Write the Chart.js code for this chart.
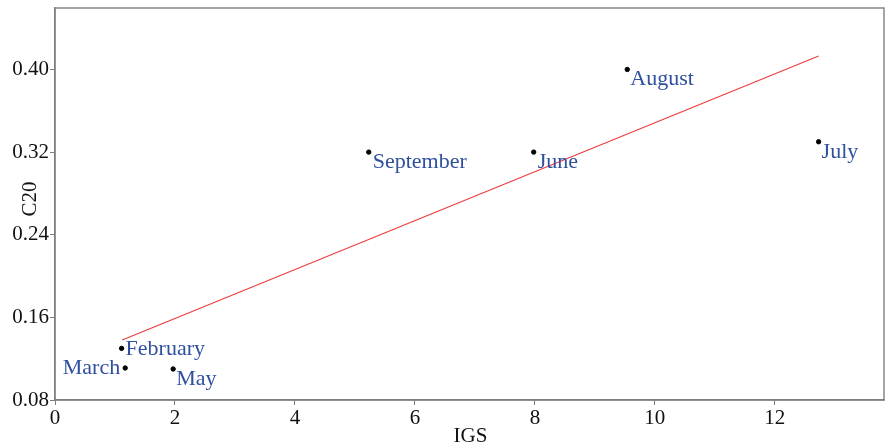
<!DOCTYPE html>
<html>
<head>
<meta charset="utf-8">
<script src="https://cdn.jsdelivr.net/npm/chart.js@4/dist/chart.umd.min.js"></script>
<style>
  html, body { margin: 0; padding: 0; background: #fff; }
  #wrap { width: 885px; height: 448px; }
</style>
</head>
<body>
<div id="wrap"><canvas id="c" width="885" height="448"></canvas></div>
<script>
// Monthly observations: IGS on the x axis, C20 on the y axis
const months = ['February', 'March', 'May', 'September', 'June', 'August', 'July'];
const igs    = [1.11, 1.17, 1.97, 5.23, 7.98, 9.54, 12.73];
const c20    = [0.130, 0.111, 0.110, 0.320, 0.320, 0.400, 0.330];

// Fitted trend line end points
const trendX = [1.12, 12.73];
const trendY = [0.138, 0.413];

// Axis ticks
const xTicks = [0, 2, 4, 6, 8, 10, 12];
const yTicks = [0.08, 0.16, 0.24, 0.32, 0.40];

const FONT = "'Liberation Serif', 'Times New Roman', serif";
const LABEL_BLUE = '#2f4f9f';
const AXIS_GREY = '#7f7f7f';

// Where each month name sits relative to its point
const labelPlacement = {
  February:  { align: 'left',  dx: 4,  dy: 1 },
  March:     { align: 'right', dx: -5, dy: 0 },
  May:       { align: 'left',  dx: 3,  dy: 10 },
  September: { align: 'left',  dx: 4,  dy: 10 },
  June:      { align: 'left',  dx: 4,  dy: 10 },
  August:    { align: 'left',  dx: 3,  dy: 10 },
  July:      { align: 'left',  dx: 3,  dy: 10 }
};

const points = igs.map((x, i) => ({ x: x, y: c20[i] }));
const trend = trendX.map((x, i) => ({ x: x, y: trendY[i] }));

// Frame around the plotting area
const framePlugin = {
  id: 'frame',
  afterDraw(chart) {
    const a = chart.chartArea, ctx = chart.ctx;
    ctx.save();
    ctx.strokeStyle = AXIS_GREY;
    ctx.lineWidth = 1.4;
    ctx.strokeRect(a.left, a.top, a.right - a.left, a.bottom - a.top);
    ctx.restore();
  }
};

// Month names next to the points
const monthLabels = {
  id: 'monthLabels',
  afterDatasetsDraw(chart) {
    const meta = chart.getDatasetMeta(1);
    const ctx = chart.ctx;
    ctx.save();
    ctx.font = '22px ' + FONT;
    ctx.fillStyle = LABEL_BLUE;
    ctx.textBaseline = 'middle';
    meta.data.forEach((el, i) => {
      const p = labelPlacement[months[i]];
      ctx.textAlign = p.align;
      ctx.fillText(months[i], el.x + p.dx, el.y + p.dy);
    });
    ctx.restore();
  }
};

// Axis titles
const axisTitles = {
  id: 'axisTitles',
  afterDraw(chart) {
    const a = chart.chartArea, ctx = chart.ctx;
    ctx.save();
    ctx.font = '21px ' + FONT;
    ctx.fillStyle = '#111';
    ctx.textAlign = 'center';
    ctx.textBaseline = 'middle';
    ctx.fillText('IGS', (a.left + a.right) / 2 + 1, 436);
    ctx.translate(30, 199);
    ctx.rotate(-Math.PI / 2);
    ctx.fillText('C20', 0, 0);
    ctx.restore();
  }
};

new Chart(document.getElementById('c'), {
  type: 'scatter',
  data: {
    datasets: [
      {
        type: 'line',
        label: 'trend',
        data: trend,
        borderColor: '#ee3b3b',
        borderWidth: 1.1,
        pointRadius: 0,
        fill: false,
        tension: 0
      },
      {
        label: 'C20',
        data: points,
        backgroundColor: '#000',
        borderColor: '#000',
        pointRadius: 2.2,
        pointHoverRadius: 2.2
      }
    ]
  },
  options: {
    responsive: false,
    animation: false,
    devicePixelRatio: 1,
    layout: { autoPadding: false, padding: { top: 8, right: 1, left: 0, bottom: 0 } },
    plugins: {
      legend: { display: false },
      tooltip: { enabled: false }
    },
    scales: {
      x: {
        type: 'linear',
        min: 0,
        max: 13.82,
        afterFit(s) { s.height = 48; s.paddingLeft = 0; s.paddingRight = 0; },
        afterBuildTicks(s) { s.ticks = xTicks.map(v => ({ value: v })); },
        ticks: {
          includeBounds: false,
          color: '#111',
          font: { family: FONT, size: 21 },
          padding: 1,
          maxRotation: 0,
          callback: v => String(v)
        },
        grid: {
          drawOnChartArea: false,
          drawTicks: true,
          tickLength: 5,
          color: AXIS_GREY
        },
        border: { color: AXIS_GREY, width: 1.4 }
      },
      y: {
        type: 'linear',
        min: 0.08,
        max: 0.4595,
        afterFit(s) { s.width = 55; s.paddingTop = 0; s.paddingBottom = 0; },
        afterBuildTicks(s) { s.ticks = yTicks.map(v => ({ value: v })); },
        ticks: {
          includeBounds: false,
          color: '#111',
          font: { family: FONT, size: 21 },
          padding: 1,
          callback: v => Number(v).toFixed(2)
        },
        grid: {
          drawOnChartArea: false,
          drawTicks: true,
          tickLength: 5,
          color: AXIS_GREY
        },
        border: { color: AXIS_GREY, width: 1.4 }
      }
    }
  },
  plugins: [framePlugin, monthLabels, axisTitles]
});
</script>
</body>
</html>
